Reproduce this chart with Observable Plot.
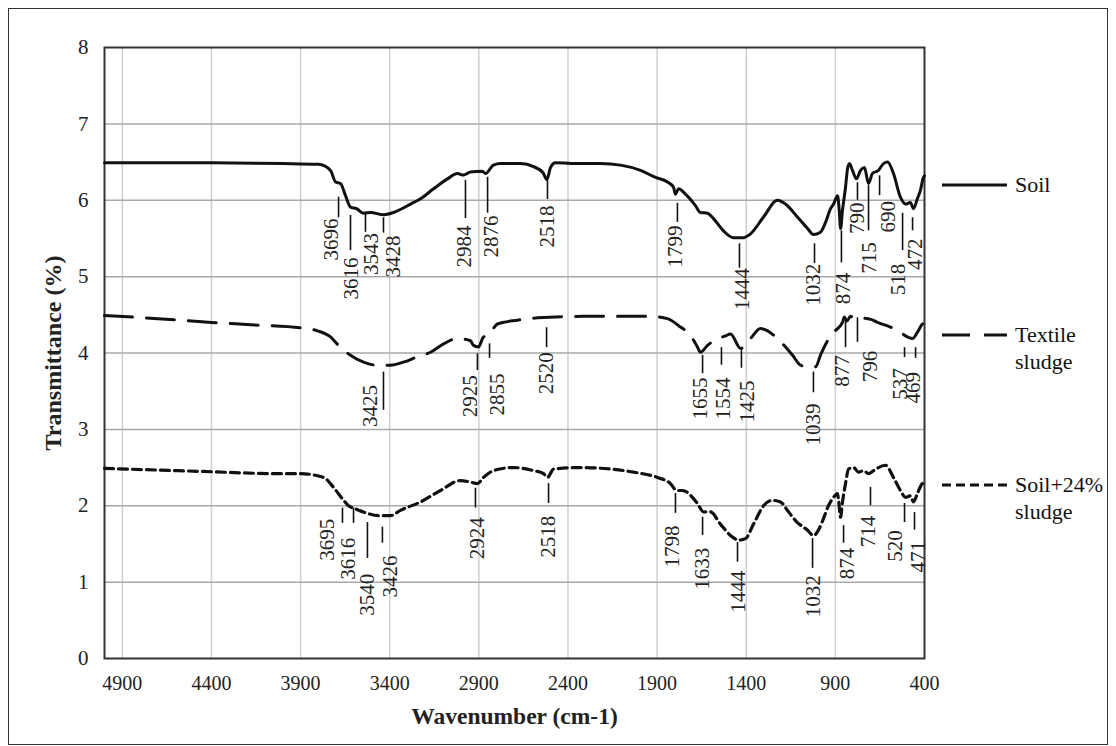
<!DOCTYPE html>
<html><head><meta charset="utf-8">
<script src="https://cdn.jsdelivr.net/npm/d3@7"></script>
<script src="https://cdn.jsdelivr.net/npm/@observablehq/plot@0.6"></script>
<style>
body{margin:0;background:#fff;}
#wrap{position:relative;width:1116px;height:746px;overflow:hidden;font-family:"Liberation Serif",serif;background:#fff;}
#border{position:absolute;left:8px;top:8px;width:1100px;height:737px;border:1.5px solid #333;box-sizing:border-box;}
#chart{position:absolute;left:0;top:0;}
#legsvg{position:absolute;left:0;top:0;}
.leg{position:absolute;left:1015px;font-family:"Liberation Serif",serif;font-size:22px;line-height:27px;color:#111;white-space:pre;}
svg text{font-family:"Liberation Serif",serif;}
</style></head><body>
<div id="wrap"><div id="border"></div><div id="chart"></div>
<svg id="legsvg" width="1116" height="746"></svg>
</div>
<script>
// ---- data ----
const xTicks = [4900, 4400, 3900, 3400, 2900, 2400, 1900, 1400, 900, 400];
const yTicks = [0, 1, 2, 3, 4, 5, 6, 7, 8];
const seriesNames = ["Soil", "Textile\nsludge", "Soil+24%\nsludge"];

const soilWn = [5000,4500,4000,3800,3732,3704,3676,3648,3620,3586,3547,3508,3435,3379,3283,3227,3154,3076,3020,2986,2947,2880,2863,2818,2779,2666,2593,2540,2518,2498,2470,2330,2218,2105,1993,1909,1842,1808,1797,1780,1741,1685,1657,1617,1584,1528,1472,1416,1376,1303,1225,1180,1113,1056,1023,984,955,927,910,888,879,871,860,843,832,821,804,782,759,737,714,692,659,630,607,574,535,506,479,462,440,423,406,400];
const soilT = [6.49,6.49,6.48,6.47,6.39,6.24,6.22,6.06,5.91,5.89,5.83,5.84,5.81,5.84,5.95,6.02,6.15,6.28,6.35,6.33,6.37,6.38,6.35,6.46,6.48,6.48,6.44,6.36,6.27,6.43,6.49,6.48,6.48,6.46,6.39,6.30,6.24,6.17,6.08,6.15,6.08,5.93,5.84,5.83,5.76,5.60,5.51,5.51,5.56,5.78,6.00,5.95,5.78,5.63,5.55,5.58,5.71,5.89,5.95,6.06,5.89,5.63,5.87,6.17,6.41,6.48,6.39,6.28,6.39,6.43,6.22,6.35,6.39,6.48,6.50,6.35,6.04,5.95,5.97,5.89,6.02,6.13,6.30,6.32];

const textileWn = [5000,4700,4400,4181,3900,3805,3732,3687,3620,3547,3469,3396,3323,3245,3171,3098,3020,2947,2930,2902,2874,2846,2796,2683,2571,2313,2218,1937,1842,1769,1713,1674,1657,1617,1561,1520,1488,1432,1376,1320,1196,1140,1095,1039,1010,984,944,910,860,850,835,815,790,770,700,664,591,535,495,467,440,412,400];
const textileT = [4.49,4.45,4.40,4.37,4.33,4.29,4.21,4.10,3.97,3.88,3.84,3.84,3.88,3.95,4.01,4.12,4.19,4.16,4.10,4.08,4.21,4.23,4.38,4.43,4.46,4.48,4.48,4.48,4.45,4.34,4.23,4.08,4.01,4.10,4.19,4.22,4.25,4.06,4.19,4.32,4.12,3.97,3.84,3.81,3.82,3.97,4.16,4.27,4.40,4.47,4.42,4.48,4.45,4.46,4.44,4.40,4.34,4.27,4.21,4.19,4.27,4.38,4.40];

const mixWn = [5000,4461,4013,3900,3771,3715,3665,3631,3592,3525,3463,3396,3340,3227,3115,3003,2947,2908,2874,2818,2706,2593,2537,2515,2481,2330,2161,2032,1898,1825,1791,1758,1674,1640,1601,1545,1477,1443,1404,1359,1303,1253,1208,1163,1113,1056,1023,995,967,939,910,888,882,871,860,843,826,798,770,742,714,686,619,574,535,506,479,462,440,412,400];
const mixT = [2.49,2.45,2.42,2.42,2.37,2.24,2.09,2.00,1.96,1.90,1.87,1.87,1.94,2.05,2.20,2.33,2.31,2.29,2.37,2.46,2.50,2.46,2.42,2.37,2.48,2.50,2.48,2.44,2.37,2.29,2.20,2.20,2.03,1.92,1.92,1.76,1.59,1.55,1.57,1.76,2.00,2.07,2.05,1.92,1.78,1.68,1.61,1.68,1.83,2.00,2.11,2.16,2.07,1.85,2.05,2.29,2.48,2.50,2.44,2.46,2.42,2.46,2.53,2.37,2.20,2.11,2.13,2.05,2.16,2.29,2.30];

// peak annotations: label, leader line wavenumber, line top/bottom (transmittance), label wavenumber, label top
const annLabel = ["3696","3616","3543","3428","2984","2876","2518","1799","1444","1032","874","790","715","690","518","472",
  "3425","2925","2855","2520","1655","1554","1425","1039","877","796","537","469",
  "3695","3616","3540","3426","2924","2518","1798","1633","1444","1032","874","714","520","471"];
const annLineWn = [3687,3620,3536,3435,2975,2851,2515,1786,1438,1017,866,776,714,652,523,467,
  3435,2908,2840,2520,1645,1539,1427,1023,843,776,512,450,
  3665,3603,3525,3441,2919,2509,1797,1645,1449,1028,854,703,512,456];
const annLineTop = [6.04,5.80,5.83,5.77,6.26,6.30,6.26,5.96,5.43,5.43,5.60,6.23,6.19,6.32,5.83,5.77,
  3.75,3.99,4.12,4.33,3.97,4.07,4.03,3.75,4.43,4.46,4.07,4.07,
  1.97,1.97,1.78,1.72,2.23,2.29,2.16,1.85,1.52,1.57,1.74,2.24,2.03,1.91];
const annLineBot = [5.77,5.34,5.58,5.57,5.76,5.83,6.01,5.71,5.11,5.17,5.18,6.00,5.60,6.06,5.34,5.60,
  3.25,3.77,3.93,4.07,3.73,3.84,3.80,3.48,4.07,4.14,3.94,3.93,
  1.77,1.77,1.31,1.51,1.97,2.03,1.90,1.61,1.26,1.18,1.51,2.00,1.78,1.68];
const annTextWn = [3727,3614,3502,3379,2980,2829,2515,1797,1421,1023,854,776,708,602,546,450,
  3508,2947,2795,2520,1657,1528,1393,1023,860,703,535,462,
  3749,3631,3525,3396,2908,2509,1814,1645,1443,1023,832,714,563,434];
const annTextTop = [5.76,5.25,5.57,5.54,5.67,5.80,5.93,5.67,5.11,5.17,5.05,5.97,5.45,5.99,5.17,5.50,
  3.58,3.71,3.73,4.01,3.68,3.68,3.64,3.34,3.97,4.03,3.80,3.75,
  1.83,1.58,1.11,1.35,1.85,1.87,1.74,1.45,1.15,1.09,1.45,1.87,1.68,1.54];

// ---- tables ----
const soil = soilWn.map((w, i) => ({w, t: soilT[i]}));
const textile = textileWn.map((w, i) => ({w, t: textileT[i]}));
const mix = mixWn.map((w, i) => ({w, t: mixT[i]}));
const ann = annLabel.map((label, i) => ({label, lx: annLineWn[i], y1: annLineTop[i], y2: annLineBot[i], tx: annTextWn[i], ty: annTextTop[i]}));

const ink = "#111";
const serif = '"Liberation Serif", serif';
const chart = Plot.plot({
  width: 1116, height: 746,
  marginLeft: 104, marginRight: 192, marginTop: 47, marginBottom: 88,
  style: {fontFamily: serif, fontSize: "20px", color: "#222", background: "transparent", overflow: "visible"},
  x: {domain: [5000, 400]},
  y: {domain: [0, 8]},
  marks: [
    Plot.gridX(xTicks.slice(0, -1), {stroke: "#cfcfcf", strokeOpacity: 1, strokeWidth: 1.5}),
    Plot.gridY(yTicks.slice(1, -1), {stroke: "#a8a8a8", strokeOpacity: 1, strokeWidth: 1.5}),
    Plot.axisX(xTicks, {tickSize: 0, tickPadding: 17, label: null, fontFamily: serif, fontSize: 20, tickFormat: d => String(d)}),
    Plot.axisY(yTicks, {tickSize: 0, tickPadding: 16, label: null, fontFamily: serif, fontSize: 21, tickFormat: d => String(d)}),
    Plot.frame({stroke: "#333", strokeWidth: 2}),
    Plot.lineY(soil, {x: "w", y: "t", stroke: ink, strokeWidth: 3, curve: "monotone-x"}),
    Plot.lineY(textile, {x: "w", y: "t", stroke: ink, strokeWidth: 3, strokeDasharray: "28,14", curve: "monotone-x"}),
    Plot.lineY(mix, {x: "w", y: "t", stroke: ink, strokeWidth: 3.2, strokeDasharray: "9,5", curve: "monotone-x"}),
    Plot.ruleX(ann, {x: "lx", y1: "y1", y2: "y2", stroke: ink, strokeWidth: 1.6}),
    Plot.text(ann, {x: "tx", y: "ty", text: "label", rotate: -90, textAnchor: "end", lineAnchor: "middle", fontFamily: serif, fontSize: 21, fill: "#222"}),
    Plot.text(["Wavenumber (cm-1)"], {frameAnchor: "bottom", textAnchor: "middle", dy: 58, lineAnchor: "middle", fontFamily: serif, fontWeight: "bold", fontSize: 23.5, fill: "#222"}),
    Plot.text(["Transmittance (%)"], {frameAnchor: "left", textAnchor: "middle", dx: -51, rotate: -90, lineAnchor: "middle", fontFamily: serif, fontWeight: "bold", fontSize: 24, fill: "#222"})
  ]
});
document.getElementById("chart").appendChild(chart);

// ---- legend ----
const legY = [185, 335, 485];
const legDash = [null, "28,14", "9,5"];
const lsvg = d3.select("#legsvg");
seriesNames.forEach((name, i) => {
  const l = lsvg.append("line").attr("x1", 942).attr("x2", 1007).attr("y1", legY[i]).attr("y2", legY[i])
    .attr("stroke", ink).attr("stroke-width", 3);
  if (legDash[i]) l.attr("stroke-dasharray", legDash[i]);
  const div = document.createElement("div");
  div.className = "leg";
  div.style.top = (legY[i] - 14) + "px";
  div.textContent = name;
  document.getElementById("wrap").appendChild(div);
});
</script>
</body></html>
